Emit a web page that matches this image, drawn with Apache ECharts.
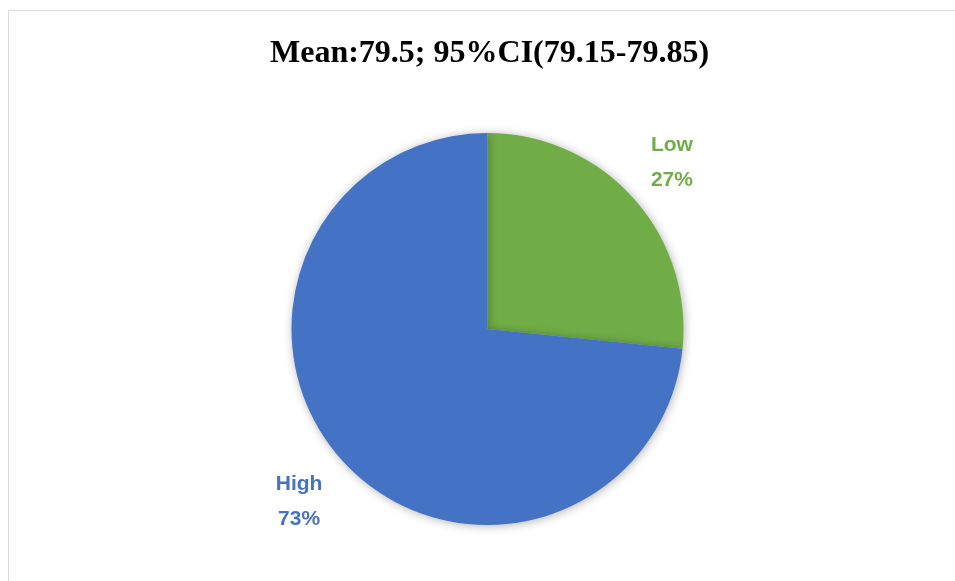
<!DOCTYPE html>
<html><head><meta charset="utf-8">
<script src="https://cdn.jsdelivr.net/npm/echarts@6/dist/echarts.min.js"></script>
<style>html,body{margin:0;padding:0;background:#fff}#c{width:955px;height:581px}</style>
</head><body><div id="c"></div>
<script>
const titleText = 'Mean:79.5; 95%CI(79.15-79.85)';
const categories = ['Low', 'High'];
const values = [26.6, 73.4];
const colors = ['#70AD47', '#4472C4'];

const chart = echarts.init(document.getElementById('c'), null, {renderer: 'canvas'});
const cx = 487.5, cy = 329, R = 196, labelDist = 254;
const total = values.reduce((a, b) => a + b, 0);
function midAngle(i) {
  let start = 0;
  for (let k = 0; k < i; k++) start += values[k];
  const mid = (start + values[i] / 2) / total * 2 * Math.PI;
  return Math.PI / 2 - mid; // clockwise from 12 o'clock
}
chart.setOption({
  animation: false,
  backgroundColor: '#ffffff',
  title: {
    text: titleText, left: 265, top: 33,
    textStyle: {fontFamily: 'Liberation Serif', fontWeight: 'bold', fontSize: 32, color: '#000'}
  },
  graphic: [{
    type: 'rect', silent: true,
    shape: {x: 8.5, y: 10.5, width: 960, height: 600},
    style: {fill: 'none', stroke: '#d9d9d9', lineWidth: 1}, z: -10
  }],
  series: [{
    type: 'pie',
    center: [cx, cy],
    radius: R,
    startAngle: 90,
    clockwise: true,
    data: categories.map((n, i) => ({name: n, value: values[i], itemStyle: {color: colors[i]},
      label: {color: colors[i]}})),
    itemStyle: {shadowBlur: 10, shadowColor: 'rgba(0,0,0,0.3)', shadowOffsetX: 1, shadowOffsetY: 1},
    label: {
      show: true, position: 'outside',
      formatter: p => p.name + '\n' + Math.round(p.percent) + '%',
      fontFamily: 'Liberation Sans', fontWeight: 'bold', fontSize: 21, lineHeight: 35
    },
    labelLine: {show: false},
    labelLayout: p => {
      const a = midAngle(p.dataIndex);
      const dy = p.dataIndex === 1 ? 2 : 4;
      const dx = p.dataIndex === 0 ? -4 : 0;
      return {x: cx + labelDist * Math.cos(a) + dx, y: cy - labelDist * Math.sin(a) + dy, align: 'center', verticalAlign: 'middle'};
    },
    emphasis: {disabled: true}
  }]
});
</script></body></html>
